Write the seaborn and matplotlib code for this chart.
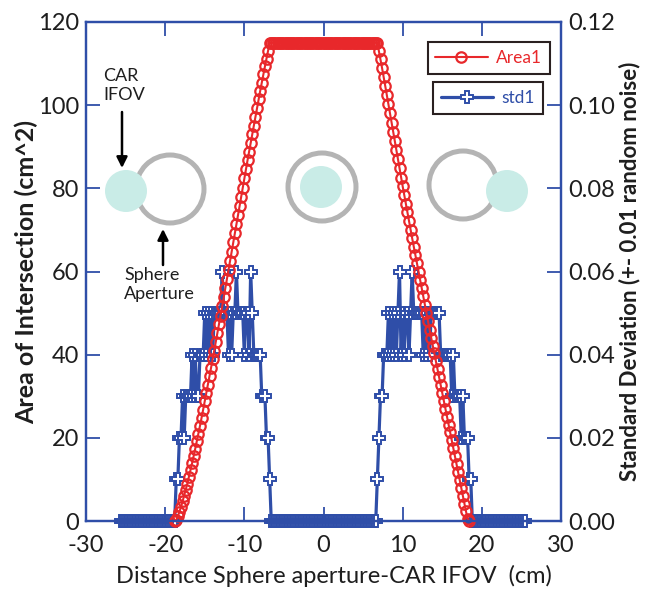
import numpy as np
import pandas as pd
import matplotlib
matplotlib.use("Agg")
import matplotlib.pyplot as plt
import seaborn as sns
from matplotlib.patches import Ellipse

# ---------------- data ----------------
STEP = 0.2  # sampling step of the distance grid (cm)

# Area1 (cm^2): rising flank, flat top, falling flank
area_left_start = -18.8
area_left = [0.0, 0.2, 1.1, 2.2, 3.4, 4.7, 6.1, 7.5, 9.0, 10.6,
             12.2, 13.9, 15.6, 17.4, 19.2, 21.0, 22.9, 24.8, 26.8, 28.8,
             30.8, 32.8, 34.8, 36.8, 38.9, 41.0, 43.1, 45.2, 47.3, 49.4,
             51.6, 53.8, 56.0, 58.2, 60.4, 62.6, 64.8, 67.0, 69.2, 71.4,
             73.6, 75.8, 78.0, 80.2, 82.4, 84.6, 86.7, 88.8, 90.9, 93.0,
             95.1, 97.2, 99.3, 101.4, 103.4, 105.4, 107.4, 109.3, 111.2, 113.0]
area_top_range = (-6.8, 6.8)
area_top_value = 115.0
area_right_start = 7.0
area_right = [113.0, 111.0, 108.9, 106.8, 104.6, 102.4, 100.2, 98.0, 95.8, 93.6,
              91.4, 89.2, 87.0, 84.8, 82.6, 80.5, 78.4, 76.3, 74.2, 72.1,
              70.0, 68.0, 66.0, 64.0, 62.0, 60.0, 58.0, 56.0, 54.0, 52.0,
              50.0, 48.0, 46.0, 44.1, 42.2, 40.3, 38.4, 36.5, 34.6, 32.7,
              30.8, 28.9, 27.0, 25.1, 23.2, 21.3, 19.4, 17.5, 15.6, 13.7,
              11.8, 9.9, 8.0, 6.1, 4.2, 2.3, 0.6, 0.0]

# std1 in hundredths (0.01 units)
std_zero_left = (-25.6, -19.2)
std_left_start = -19.0
std_left = [0, 0, 1, 1, 2, 2, 3, 2, 3, 3,
            3, 3, 4, 3, 4, 3, 3, 4, 4, 4,
            5, 4, 5, 4, 5, 4, 5, 5, 5, 5,
            5, 6, 5, 5, 5, 4, 5, 4, 5, 5,
            6, 5, 5, 5, 5, 4, 5, 5, 4, 6,
            5, 4, 4, 4, 4, 4, 3, 3, 3, 2,
            2, 1, 0]
std_zero_mid = (-6.4, 6.4)
std_right_start = 6.6
std_right = [0, 1, 2, 3, 3, 4, 4, 4, 5, 4,
             5, 4, 5, 4, 5, 6, 4, 5, 4, 5,
             5, 4, 5, 6, 5, 5, 5, 5, 5, 5,
             4, 5, 4, 5, 4, 5, 5, 5, 5, 5,
             5, 4, 4, 4, 4, 4, 4, 4, 3, 4,
             3, 3, 3, 3, 2, 3, 2, 2, 2, 1,
             1, 0]
std_zero_right = (19.0, 25.4)

x_ticks = [-30, -20, -10, 0, 10, 20, 30]
y_ticks = [0, 20, 40, 60, 80, 100, 120]
y2_ticks = [0.00, 0.02, 0.04, 0.06, 0.08, 0.10, 0.12]


def grid(start, n):
    return np.round(start + STEP * np.arange(n), 2)


def span(lo, hi):
    return int(round((hi - lo) / STEP)) + 1


n_top = span(*area_top_range)
area_x = np.concatenate([grid(area_left_start, len(area_left)),
                         grid(area_top_range[0], n_top),
                         grid(area_right_start, len(area_right))])
area_y = np.concatenate([area_left, [area_top_value] * n_top, area_right])
df_area = pd.DataFrame({"x": area_x, "area": area_y})

nzl, nzm, nzr = span(*std_zero_left), span(*std_zero_mid), span(*std_zero_right)
std_x = np.concatenate([grid(std_zero_left[0], nzl),
                        grid(std_left_start, len(std_left)),
                        grid(std_zero_mid[0], nzm),
                        grid(std_right_start, len(std_right)),
                        grid(std_zero_right[0], nzr)])
std_v = np.concatenate([[0] * nzl, std_left, [0] * nzm, std_right, [0] * nzr]) / 100.0
df_std = pd.DataFrame({"x": std_x, "std": std_v})

# ---------------- style ----------------
sns.set_style("ticks")
plt.rcParams["font.family"] = ["Lato", "DejaVu Sans"]
plt.rcParams["axes.unicode_minus"] = False

BLUE = "#2f4ea8"
RED = "#e8282b"
TXT = "#1e1e1e"

W, H = 650, 590
fig = plt.figure(figsize=(6.5, 5.9), dpi=100)
L, R, T, B = 86, 561, 22, 521
ax = fig.add_axes([L / W, 1 - B / H, (R - L) / W, (B - T) / H])
ax2 = ax.twinx()
ax.set_zorder(ax2.get_zorder() + 1)
ax.patch.set_visible(False)

sns.lineplot(data=df_std, x="x", y="std", ax=ax2, color=BLUE, lw=2.3,
             marker="P", markersize=8, markerfacecolor="white",
             markeredgecolor=BLUE, markeredgewidth=1.4,
             estimator=None, sort=False, errorbar=None, legend=False,
             clip_on=False)
sns.lineplot(data=df_area, x="x", y="area", ax=ax, color=RED, lw=1.5,
             marker="o", markersize=7.5, markerfacecolor="none",
             markeredgecolor=RED, markeredgewidth=1.6,
             estimator=None, sort=False, errorbar=None, legend=False,
             clip_on=False)

ax.set_xlim(-30, 30)
ax.set_ylim(0, 120)
ax2.set_ylim(0, 0.12)
ax.set_xticks(x_ticks)
ax.set_yticks(y_ticks)
ax2.set_yticks(y2_ticks)
ax2.yaxis.set_major_formatter("{x:.2f}")

for a in (ax, ax2):
    for s in a.spines.values():
        s.set_color(BLUE)
        s.set_linewidth(1.6)
ax.tick_params(axis="both", direction="in", length=10, width=1.3, color=BLUE,
               labelsize=17, labelcolor=TXT, pad=5)
ax.tick_params(axis="x", top=True, bottom=True, pad=10)
ax.tick_params(axis="y", left=True, right=False)
ax2.tick_params(axis="y", direction="in", length=10, width=1.3, color=BLUE,
                labelsize=17, labelcolor=TXT, right=True, left=False, pad=5)

ax.set_xlabel("Distance Sphere aperture-CAR IFOV  (cm)", fontsize=17, color=TXT)
ax.xaxis.set_label_coords((334 - L) / (R - L), -0.088)
ax.set_ylabel("Area of Intersection (cm^2)", fontsize=18, fontweight="bold",
              color=TXT, labelpad=0)
ax2.set_ylabel("Standard Deviation (+- 0.01 random noise)", fontsize=16,
               fontweight="bold", color=TXT, labelpad=3)

# legends (two separate boxes)
area_line = ax.get_lines()[0]
std_line = ax2.get_lines()[0]
leg1 = ax.legend([area_line], ["Area1"], loc="upper right",
                 bbox_to_anchor=(550 / W, 1 - 42 / H), bbox_transform=fig.transFigure,
                 frameon=True, fancybox=False, edgecolor="#2a2020", framealpha=1,
                 labelcolor=RED, fontsize=12.5, handlelength=3.0, borderaxespad=0,
                 borderpad=0.45, handletextpad=0.5)
leg1.get_frame().set_linewidth(1.5)
ax.add_artist(leg1)
leg2 = ax.legend([std_line], ["std1"], loc="upper right",
                 bbox_to_anchor=(543 / W, 1 - 82 / H), bbox_transform=fig.transFigure,
                 frameon=True, fancybox=False, edgecolor="#2a2020", framealpha=1,
                 labelcolor=BLUE, fontsize=12.5, handlelength=3.0, borderaxespad=0,
                 borderpad=0.45, handletextpad=0.5)
leg2.get_frame().set_linewidth(1.5)

# illustrations of the two circles
RING = "#b4b4b4"
DISK = "#c9ece7"


def circle(cx, cy, r, **kw):
    e = Ellipse((cx / W, 1 - cy / H), 2 * r / W, 2 * r / H,
                transform=fig.transFigure, **kw)
    ax.add_patch(e)


for (rx, ry), (dx, dy) in [((170, 189), (126, 191)),
                           ((322, 187), (321, 187)),
                           ((463, 185), (507, 191))]:
    circle(rx, ry, 34, facecolor="none", edgecolor=RING, lw=3.6, zorder=1)
    circle(dx, dy, 21, facecolor=DISK, edgecolor="none", zorder=1.5)

fig.text(103 / W, 1 - 68 / H, "CAR\nIFOV", fontsize=13, color=TXT,
         ha="left", va="top", linespacing=1.25)
fig.text(124 / W, 1 - 267 / H, "Sphere\nAperture", fontsize=13, color=TXT,
         ha="left", va="top", linespacing=1.25)
arrow = dict(arrowstyle="-|>", color="black", lw=1.8, mutation_scale=16,
             shrinkA=0, shrinkB=0)
ax.annotate("", xy=(122, H - 168), xytext=(122, H - 112),
            xycoords="figure pixels", textcoords="figure pixels", arrowprops=arrow)
ax.annotate("", xy=(163, H - 229), xytext=(163, H - 265),
            xycoords="figure pixels", textcoords="figure pixels", arrowprops=arrow)

fig.savefig("out.png", dpi=100)
